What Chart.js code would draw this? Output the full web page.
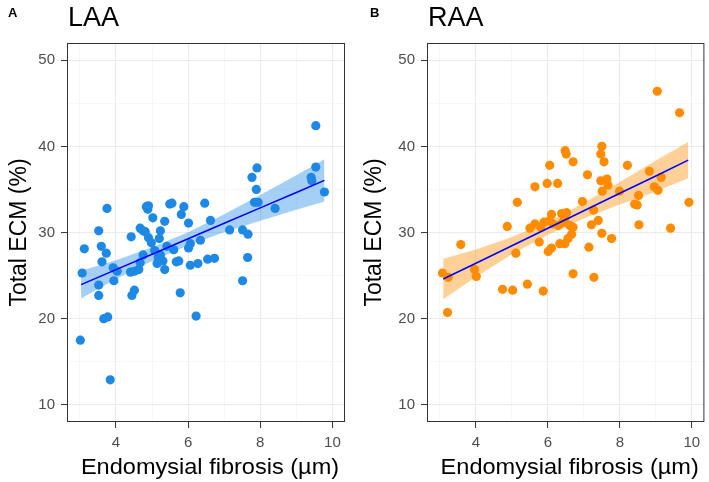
<!DOCTYPE html>
<html>
<head>
<meta charset="utf-8">
<script src="https://cdn.jsdelivr.net/npm/chart.js@4"></script>
<style>
  body { margin: 0; background: #fff; }
  canvas { position: absolute; top: 0; }
</style>
</head>
<body>
<canvas id="laa" width="355" height="482" style="left:0"></canvas>
<canvas id="raa" width="354" height="482" style="left:355px"></canvas>
<script>
// values
const laaFibrosis = [3.01, 3.06, 3.12, 3.52, 3.52, 3.52, 3.59, 3.61, 3.66, 3.73, 3.75, 3.77, 3.84, 3.92, 3.94, 4.03,
    4.40, 4.42, 4.44, 4.51, 4.51, 4.63, 4.67, 4.67, 4.75, 4.75, 4.81, 4.84, 4.88, 4.90, 4.90, 4.98, 5.02, 5.07, 5.14,
    5.17, 5.20, 5.23, 5.23, 5.30, 5.35, 5.35, 5.41, 5.49, 5.55, 5.60, 5.67, 5.74, 5.78, 5.81, 5.88, 6.01, 6.01, 6.06,
    6.06, 6.22, 6.27, 6.34, 6.46, 6.54, 6.62, 6.73, 7.15, 7.51, 7.51, 7.65, 7.66, 7.77, 7.84, 7.89, 7.91, 7.94, 8.41,
    9.41, 9.43, 9.54, 9.54, 9.78];
const laaECM = [17.5, 25.3, 28.1, 30.2, 23.9, 22.7, 28.4, 26.6, 20.0, 27.6, 32.8, 20.2, 12.9, 25.9, 24.4, 25.5,
    25.4, 29.5, 22.7, 23.3, 25.5, 25.7, 26.5, 30.5, 27.4, 30.2, 30.1, 33.0, 32.7, 33.1, 29.4, 28.8, 31.7, 27.9, 26.4,
    27.1, 29.3, 30.2, 27.4, 26.7, 31.3, 25.7, 28.4, 33.3, 33.4, 28.0, 26.6, 26.7, 23.0, 32.1, 33.0, 31.1, 28.2, 28.7,
    26.2, 20.3, 26.4, 29.1, 33.4, 26.9, 31.4, 27.0, 30.3, 30.3, 24.4, 27.1, 29.8, 36.4, 33.5, 35.0, 37.5, 33.5, 32.8,
    36.4, 36.0, 42.4, 37.6, 34.7];

const raaFibrosis = [3.07, 3.23, 3.21, 3.58, 3.96, 4.01, 4.74, 4.87, 5.02, 5.11, 5.15, 5.43, 5.50, 5.64, 5.64, 5.76,
    5.80, 5.87, 5.89, 5.98, 6.01, 6.05, 6.05, 6.10, 6.10, 6.14, 6.27, 6.29, 6.33, 6.38, 6.40, 6.47, 6.47, 6.48, 6.51,
    6.52, 6.56, 6.61, 6.66, 6.70, 6.70, 6.70, 6.96, 7.10, 7.14, 7.21, 7.27, 7.28, 7.40, 7.47, 7.47, 7.50, 7.50, 7.51,
    7.56, 7.64, 7.67, 7.77, 7.99, 8.21, 8.41, 8.48, 8.52, 8.53, 8.82, 8.96, 9.04, 9.06, 9.15, 9.41, 9.66, 9.92];
const raaECM = [25.3, 24.8, 20.7, 28.6, 25.7, 24.9, 23.4, 30.7, 23.3, 27.6, 33.5, 24.0, 30.5, 31.0, 35.3, 28.9,
    30.6, 23.2, 31.2, 35.7, 27.8, 37.8, 31.4, 32.1, 28.2, 31.0, 35.7, 30.8, 28.7, 32.2, 31.1, 31.6, 28.7, 39.5, 39.1,
    32.3, 29.3, 30.8, 29.8, 38.2, 30.6, 25.2, 33.6, 36.7, 28.3, 30.9, 32.6, 24.8, 31.4, 39.1, 36.0, 40.0, 29.9, 34.8,
    38.2, 36.2, 35.5, 29.3, 34.8, 37.8, 33.3, 33.2, 34.3, 30.9, 37.1, 35.3, 46.4, 34.9, 36.4, 30.5, 43.9, 33.5];

// fitted line and confidence band, read at a few x positions
const laaBandX = [3.03, 4, 5, 6, 7, 8, 9, 9.78];
const laaFit = [23.95, 25.69, 27.48, 29.28, 31.07, 32.86, 34.65, 36.05];
const laaLow = [22.35, 24.59, 26.68, 28.53, 30.02, 31.36, 32.65, 33.6];
const laaHigh = [25.55, 26.79, 28.28, 30.03, 32.12, 34.36, 36.65, 38.5];

const raaBandX = [3.09, 4, 5, 6, 7, 8, 9, 9.9];
const raaFit = [24.6, 26.44, 28.47, 30.5, 32.52, 34.55, 36.57, 38.4];
const raaLow = [22.25, 24.84, 27.47, 29.75, 31.62, 33.25, 34.77, 36.3];
const raaHigh = [26.95, 28.04, 29.47, 31.25, 33.42, 35.85, 38.37, 40.5];

const xTicks = [3, 4, 5, 6, 7, 8, 9, 10];
const xLabels = [4, 6, 8, 10];
const yTicks = [10, 15, 20, 25, 30, 35, 40, 45, 50];
const yLabels = [10, 20, 30, 40, 50];

const FONT = '"Liberation Sans", Arial, sans-serif';
const pairs = (xs, ys) => xs.map((x, i) => ({ x: x, y: ys[i] }));

const panelFrame = {
    id: 'panelFrame',
    afterDatasetsDraw(chart) {
        const a = chart.chartArea;
        const ctx = chart.ctx;
        ctx.save();
        ctx.strokeStyle = '#333333';
        ctx.lineWidth = 1;
        ctx.strokeRect(a.left + 0.5, a.top + 0.5, a.right - a.left - 1, a.bottom - a.top - 1);
        ctx.restore();
    },
    afterDraw(chart, args, opts) {
        const ctx = chart.ctx;
        const a = chart.chartArea;
        ctx.save();
        ctx.fillStyle = '#000';
        ctx.textBaseline = 'alphabetic';
        ctx.font = 'bold 13px ' + FONT;
        ctx.fillText(opts.tag, opts.tagX, 17);
        ctx.font = '27px ' + FONT;
        ctx.fillText(opts.title, a.left + 1, 26);
        // x axis title, slightly widened like the source figure
        ctx.font = '22px ' + FONT;
        ctx.textAlign = 'center';
        ctx.translate((a.left + a.right) / 2 + 4, 474);
        ctx.scale(1.07, 1);
        ctx.fillText(opts.xTitle, 0, 0);
        ctx.restore();
    }
};

function makePanel(id, xs, ys, color, bandColor, bandX, fit, low, high, tag, title, yWidth, padRight, tagX) {
    const isMajor = (list, v) => list.indexOf(Math.round(v * 100) / 100) >= 0;
    return new Chart(document.getElementById(id), {
        type: 'scatter',
        data: {
            datasets: [
                {
                    type: 'line',
                    data: pairs(bandX, fit),
                    borderColor: '#0000FF',
                    borderWidth: 1.6,
                    pointRadius: 0,
                    fill: false,
                    order: 1
                },
                {
                    type: 'line',
                    data: pairs(bandX, high),
                    borderWidth: 0,
                    pointRadius: 0,
                    backgroundColor: bandColor,
                    fill: '+1',
                    order: 2
                },
                {
                    type: 'line',
                    data: pairs(bandX, low),
                    borderWidth: 0,
                    pointRadius: 0,
                    fill: false,
                    order: 2
                },
                {
                    data: pairs(xs, ys),
                    backgroundColor: color,
                    borderWidth: 0,
                    pointRadius: 4.6,
                    order: 3
                }
            ]
        },
        options: {
            responsive: false,
            animation: false,
            devicePixelRatio: 1,
            layout: { padding: { left: 0, right: padRight, top: 43, bottom: 0 } },
            plugins: {
                legend: { display: false },
                tooltip: { enabled: false },
                panelFrame: { tag: tag, title: title, tagX: tagX, xTitle: 'Endomysial fibrosis (µm)' }
            },
            scales: {
                x: {
                    type: 'linear',
                    min: 2.64,
                    max: 10.35,
                    afterBuildTicks: s => { s.ticks = xTicks.map(v => ({ value: v })); },
                    afterFit: s => { s.height = 60; },
                    border: { display: false },
                    grid: {
                        color: c => isMajor(xLabels, c.tick.value) ? '#EBEBEB' : '#F2F2F2',
                        lineWidth: c => isMajor(xLabels, c.tick.value) ? 1.1 : 0.6,
                        tickColor: c => isMajor(xLabels, c.tick.value) ? '#333333' : 'rgba(0,0,0,0)',
                        tickLength: 6,
                        tickWidth: 1
                    },
                    ticks: {
                        autoSkip: false,
                        maxRotation: 0,
                        padding: 6,
                        color: '#4D4D4D',
                        font: { family: FONT, size: 15 },
                        callback: v => isMajor(xLabels, v) ? String(v) : ''
                    },
                    title: { display: false }
                },
                y: {
                    min: 8,
                    max: 52,
                    afterBuildTicks: s => { s.ticks = yTicks.map(v => ({ value: v })); },
                    afterFit: s => { s.width = yWidth; },
                    border: { display: false },
                    grid: {
                        color: c => isMajor(yLabels, c.tick.value) ? '#EBEBEB' : '#F2F2F2',
                        lineWidth: c => isMajor(yLabels, c.tick.value) ? 1.1 : 0.6,
                        tickColor: c => isMajor(yLabels, c.tick.value) ? '#333333' : 'rgba(0,0,0,0)',
                        tickLength: 6,
                        tickWidth: 1
                    },
                    ticks: {
                        autoSkip: false,
                        padding: 6,
                        color: '#4D4D4D',
                        font: { family: FONT, size: 15 },
                        callback: v => isMajor(yLabels, v) ? String(v) : ''
                    },
                    title: {
                        display: true,
                        text: 'Total ECM (%)',
                        color: '#000',
                        padding: { top: 6, bottom: 0 },
                        font: { family: FONT, size: 23 }
                    }
                }
            }
        },
        plugins: [panelFrame]
    });
}

makePanel('laa', laaFibrosis, laaECM, '#1E88E5', 'rgba(30,136,229,0.4)',
    laaBandX, laaFit, laaLow, laaHigh, 'A', 'LAA', 67, 10, 8);
makePanel('raa', raaFibrosis, raaECM, '#FF8C00', 'rgba(255,140,0,0.4)',
    raaBandX, raaFit, raaLow, raaHigh, 'B', 'RAA', 72, 4, 15);
</script>
</body>
</html>
